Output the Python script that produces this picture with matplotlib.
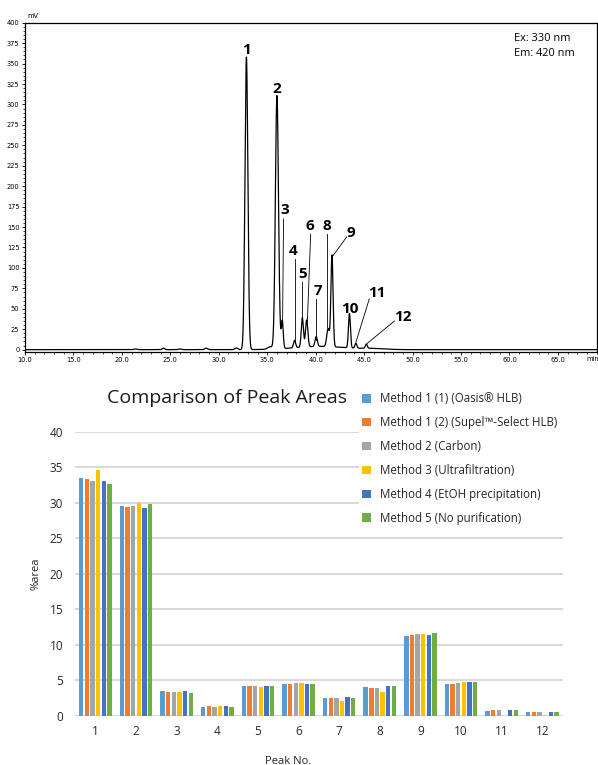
import numpy as np
import matplotlib
matplotlib.use("Agg")
import matplotlib.pyplot as plt
from matplotlib.ticker import MultipleLocator, FormatStrFormatter
from matplotlib.patches import Patch, Rectangle

# ---------------- Chromatogram data (peaks) ----------------
peak_labels = ["1", "2", "3", "4", "5", "6", "7", "8", "9", "10", "11", "12"]
peak_times = [32.85, 36.0, 36.55, 37.82, 38.62, 39.07, 40.05, 41.28, 41.68, 43.48, 44.15, 45.22]   # min
peak_heights = [358, 310, 34, 9, 36, 33, 12, 22, 112, 42, 6, 5]                                 # mV
peak_sigmas = [0.15, 0.16, 0.10, 0.11, 0.11, 0.12, 0.12, 0.14, 0.11, 0.10, 0.10, 0.10]          # min

# minor baseline features (time, height, width)
base_times = [21.4, 24.3, 26.0, 28.7, 31.8, 35.3, 40.5, 46.0]
base_heights = [0.8, 1.8, 0.8, 1.8, 2.0, 3.0, 4.0, 1.2]
base_sigmas = [0.15, 0.12, 0.15, 0.15, 0.15, 0.25, 2.6, 1.2]

# label positions (time, mV baseline) and leader lines
label_pos = [(32.85, 362), (35.95, 314), (36.83, 166), (37.69, 116), (38.62, 88),
             (39.42, 147), (40.25, 67), (41.18, 147), (43.6, 138), (43.56, 45),
             (46.29, 65), (48.98, 35)]
leader_from = [None, None, (36.68, 160), (37.82, 111), (38.59, 83), (39.48, 141), (40.0, 62),
               (41.21, 141), (43.2, 138), None, (45.53, 62), (48.12, 35)]
leader_to = [None, None, (36.58, 28), (37.82, 8.5), (38.59, 37), (39.14, 34), (40.0, 12),
             (41.21, 28), (41.73, 114), None, (44.15, 9), (45.25, 7)]

# ---------------- Bar chart data ----------------
peak_no = ["1", "2", "3", "4", "5", "6", "7", "8", "9", "10", "11", "12"]
method_names = ["Method 1 (1) (Oasis\u00ae HLB)",
                "Method 1 (2) (Supel\u2122-Select HLB)",
                "Method 2 (Carbon)",
                "Method 3 (Ultrafiltration)",
                "Method 4 (EtOH precipitation)",
                "Method 5 (No purification)"]
m1_oasis = [33.5, 29.5, 3.47, 1.27, 4.13, 4.46, 2.44, 4.04, 11.2, 4.46, 0.70, 0.50]
m1_supel = [33.3, 29.4, 3.33, 1.41, 4.18, 4.46, 2.49, 3.94, 11.36, 4.50, 0.75, 0.50]
m2_carbon = [33.05, 29.5, 3.38, 1.27, 4.13, 4.55, 2.44, 3.94, 11.5, 4.65, 0.75, 0.50]
m3_ultra = [34.6, 29.9, 3.29, 1.41, 4.08, 4.55, 2.11, 3.33, 11.5, 4.79, 0.0, 0.08]
m4_etoh = [33.0, 29.2, 3.47, 1.36, 4.23, 4.41, 2.63, 4.18, 11.36, 4.69, 0.80, 0.55]
m5_none = [32.6, 29.8, 3.15, 1.27, 4.23, 4.46, 2.44, 4.13, 11.6, 4.79, 0.75, 0.55]
series = [m1_oasis, m1_supel, m2_carbon, m3_ultra, m4_etoh, m5_none]
colors = ["#5B9BD5", "#ED7D31", "#A5A5A5", "#FFC000", "#4472C4", "#70AD47"]

W, H = 598, 765
fig = plt.figure(figsize=(W / 100, H / 100), dpi=100)

# ================= Chromatogram =================
ax1 = fig.add_axes([25 / W, 1 - 351.7 / H, 571.7 / W, 329 / H])
t = np.linspace(10, 69, 6000)
y = np.zeros_like(t)
for tt, hh, ss in zip(peak_times + base_times, peak_heights + base_heights, peak_sigmas + base_sigmas):
    y += hh * np.exp(-0.5 * ((t - tt) / ss) ** 2)
ax1.plot(t, y, color="black", lw=0.9)
ax1.set_xlim(10, 69)
ax1.set_ylim(-2.5, 400)
ax1.xaxis.set_major_locator(MultipleLocator(5))
ax1.xaxis.set_minor_locator(MultipleLocator(1))
ax1.yaxis.set_major_locator(MultipleLocator(25))
ax1.yaxis.set_minor_locator(MultipleLocator(5))
ax1.xaxis.set_major_formatter(FormatStrFormatter("%.1f"))
ax1.tick_params(axis="both", which="major", labelsize=4.8, length=2.5, width=0.6, pad=1.5, direction="out")
ax1.tick_params(axis="both", which="minor", length=1.5, width=0.5, direction="out")
for sp in ax1.spines.values():
    sp.set_linewidth(0.9)
xt = [v for v in ax1.get_xticks() if 10 <= v <= 65]
ax1.set_xticks(xt)
ax1.text(0.004, 1.012, "mV", transform=ax1.transAxes, fontsize=4.8, ha="left", va="bottom")
ax1.text(68.6, -8, "min", fontsize=4.8, ha="center", va="top", clip_on=False)
ax1.text(0.855, 0.968, "Ex: 330 nm\nEm: 420 nm", transform=ax1.transAxes, fontsize=7.9,
         ha="left", va="top", family="Open Sans", linespacing=1.45)
for lab, (lx, ly), lf, lt in zip(peak_labels, label_pos, leader_from, leader_to):
    ax1.text(lx, ly, lab, fontsize=11, fontweight="bold", ha="center", va="baseline", family="Open Sans")
    if lf is not None:
        ax1.plot([lf[0], lt[0]], [lf[1], lt[1]], color="black", lw=0.6)

# ================= Bar chart =================
ax2 = fig.add_axes([75 / W, 1 - 715.7 / H, 487.7 / W, 284 / H])
x = np.arange(len(peak_no))
step = 0.139
bw = 0.108
for i, (vals, c) in enumerate(zip(series, colors)):
    ax2.bar(x + (i - 2.5) * step, vals, width=bw, color=c, zorder=3, label=method_names[i])
ax2.set_xlim(-0.5, len(peak_no) - 0.5)
ax2.set_ylim(0, 40)
ax2.set_yticks(np.arange(0, 41, 5))
ax2.set_xticks(x)
ax2.set_xticklabels(peak_no)
ax2.grid(axis="y", color="#D9D9D9", lw=1.5, zorder=0)
for sp in ax2.spines.values():
    sp.set_visible(False)
ax2.tick_params(axis="both", length=0, labelsize=8.5, colors="#262626")
ax2.tick_params(axis="y", pad=8.5)
ax2.tick_params(axis="x", pad=7)
for lbl in ax2.get_xticklabels() + ax2.get_yticklabels():
    lbl.set_family("Open Sans")
ax2.set_ylabel("%area", fontsize=8, family="Open Sans", color="#262626")
ax2.yaxis.set_label_coords(-33 / 487.7, 0.5)

fig.text(226.7 / W, 1 - 398 / H, "Comparison of Peak Areas", fontsize=14, family="Open Sans",
         ha="center", va="center", color="#1a1a1a")
fig.text(288 / W, 1 - 761 / H, "Peak No.", fontsize=8, family="Open Sans", ha="center",
         va="center", color="#262626")

# white legend area (covers the upper gridlines like the reference)
fig.patches.append(Rectangle((359 / W, 1 - 527 / H), (W - 359) / W, 140 / H,
                             transform=fig.transFigure, facecolor="white", edgecolor="none", zorder=4))
handles = [Patch(facecolor=c, edgecolor="none") for c in colors]
leg = fig.legend(handles, method_names, loc="upper left", bbox_to_anchor=(359 / W, 1 - 389 / H),
                 frameon=False, fontsize=8.3, handlelength=0.75, handleheight=0.75, handletextpad=0.8,
                 labelspacing=0.94, borderpad=0.3, borderaxespad=0)
leg.set_zorder(5)
for txt in leg.get_texts():
    txt.set_family("Open Sans")
    txt.set_color("#262626")

fig.savefig("out.png", dpi=100)
